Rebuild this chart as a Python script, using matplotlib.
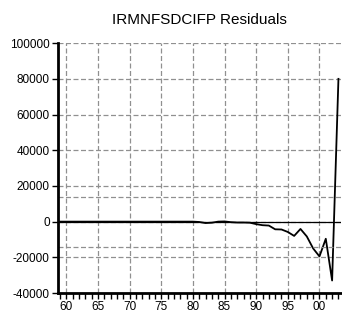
import numpy as np
import matplotlib.pyplot as plt
from matplotlib.ticker import MultipleLocator, FuncFormatter

plt.rcParams['font.family'] = ['Liberation Sans', 'DejaVu Sans']
plt.rcParams['axes.unicode_minus'] = False

# residual series, 1959-2003
years = np.arange(1959, 2004)
resid = [0, 0, 0, 0, 0, 0, 0, 0, 0, 0,
         0, 0, 0, 0, 0, 0, 0, 0, 0, 0,
         0, 0, -200, -800, -600, 0, 100, -300, -500, -500,
         -600, -1400, -2000, -2200, -4300, -4400, -5800, -8000, -4100, -8300,
         -15000, -19500, -9600, -33000, 80000]
band = 14000

fig = plt.figure(figsize=(3.42, 3.22), dpi=100)
ax = fig.add_axes([0.17, 0.09, 0.827, 0.776])

ax.plot(years, resid, color='black', lw=1.3)
ax.axhline(0, color='black', lw=0.9)
ax.axhline(band, color='#909090', lw=0.9, ls=(0, (4, 2)))
ax.axhline(-band, color='#909090', lw=0.9, ls=(0, (4, 2)))

ax.set_xlim(1958.7, 2003.4)
ax.set_ylim(-40000, 100000)
ax.xaxis.set_major_locator(MultipleLocator(5))
ax.xaxis.set_minor_locator(MultipleLocator(1))
ax.xaxis.set_major_formatter(FuncFormatter(lambda v, p: '%02d' % (int(v) % 100)))
ax.yaxis.set_major_locator(MultipleLocator(20000))
ax.yaxis.set_major_formatter(FuncFormatter(lambda v, p: '%d' % v))

ax.grid(True, which='major', color='#909090', lw=0.9, ls=(0, (4, 2)))
for s in ['top', 'right']:
    ax.spines[s].set_visible(False)
for s in ['left', 'bottom']:
    ax.spines[s].set_linewidth(2)
ax.tick_params(which='both', direction='out', length=4.5, width=1, labelsize=8.5, pad=1.5)

ax.set_title('IRMNFSDCIFP Residuals', fontsize=11, pad=14)

fig.savefig('out.png')
